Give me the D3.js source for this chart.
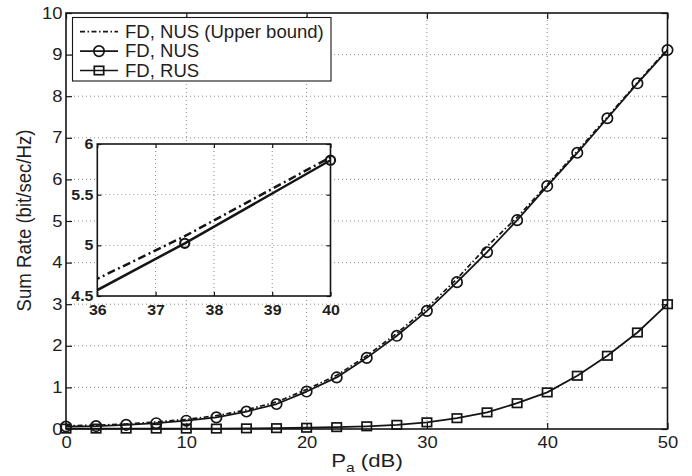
<!DOCTYPE html>
<html><head><meta charset="utf-8">
<script src="https://cdn.jsdelivr.net/npm/d3@7"></script>
<style>
html,body{margin:0;padding:0;background:#fff;}
svg{display:block;font-family:"Liberation Sans",Arial,Helvetica,sans-serif;}
</style></head><body>
<svg id="chart" width="692" height="476"></svg>
<script>
// Transmit power P_a (dB) at each simulated point
const powerDb = [0, 2.5, 5, 7.5, 10, 12.5, 15, 17.5, 20, 22.5, 25, 27.5, 30, 32.5, 35, 37.5, 40, 42.5, 45, 47.5, 50];
// Sum rate (bit/sec/Hz) per scheme
const rateNusUpper = [0.08, 0.09, 0.12, 0.17, 0.23, 0.32, 0.46, 0.65, 0.95, 1.29, 1.76, 2.30, 2.91, 3.61, 4.39, 5.09, 5.87, 6.68, 7.50, 8.33, 9.13];
const rateNus      = [0.06, 0.07, 0.10, 0.14, 0.20, 0.28, 0.42, 0.60, 0.90, 1.24, 1.71, 2.24, 2.84, 3.53, 4.25, 5.02, 5.84, 6.64, 7.47, 8.31, 9.11];
const rateRus      = [0.01, 0.01, 0.01, 0.01, 0.01, 0.01, 0.015, 0.02, 0.03, 0.045, 0.065, 0.10, 0.16, 0.26, 0.40, 0.62, 0.88, 1.28, 1.76, 2.32, 3.00];
const seriesNames = ["FD, NUS (Upper bound)", "FD, NUS", "FD, RUS"];

const xTicks = [0, 10, 20, 30, 40, 50];
const yTicks = [0, 1, 2, 3, 4, 5, 6, 7, 8, 9, 10];
const insetXTicks = [36, 37, 38, 39, 40];
const insetYTicks = [4.5, 5, 5.5, 6];
const insetXDomain = [36, 40];
const insetYDomain = [4.5, 6];

const svg = d3.select("#chart");
const ink = "#151515";
const textInk = "#1e1e1e";
const gridInk = "#8a8a8a";
const font = "'Liberation Sans',Arial,Helvetica,sans-serif";

// Main axes geometry
const plot = {left: 66, right: 667.5, top: 13, bottom: 429};
const x = d3.scaleLinear().domain([0, 50]).range([plot.left, plot.right]);
const y = d3.scaleLinear().domain([0, 10]).range([plot.bottom, plot.top]);

svg.append("rect").attr("width", 692).attr("height", 476).attr("fill", "#fff");

// Dotted grid
function drawGrid(g, xs, ys, xt, yt) {
  const [x0, x1] = xs.range(), [y0, y1] = ys.range();
  g.selectAll(".gx").data(xt.filter(v => v !== xs.domain()[0] && v !== xs.domain()[1]))
    .join("line").attr("class", "gx").attr("x1", d => xs(d)).attr("x2", d => xs(d)).attr("y1", y0).attr("y2", y1)
    .attr("stroke", gridInk).attr("stroke-width", 1).attr("stroke-dasharray", "1,3");
  g.selectAll(".gy").data(yt.filter(v => v !== ys.domain()[0] && v !== ys.domain()[1]))
    .join("line").attr("class", "gy").attr("x1", x0).attr("x2", x1).attr("y1", d => ys(d)).attr("y2", d => ys(d))
    .attr("stroke", gridInk).attr("stroke-width", 1).attr("stroke-dasharray", "1,3");
}
drawGrid(svg.append("g"), x, y, xTicks, yTicks);

// Axes with inward ticks on all four sides
function styleAxis(g, fontSize, sx, weight) {
  g.select(".domain").remove();
  g.selectAll(".tick line").attr("stroke", ink).attr("stroke-width", 1.2);
  g.selectAll(".tick text").attr("fill", textInk).attr("font-size", fontSize)
    .attr("font-weight", weight || "normal")
    .attr("font-family", font)
    .attr("transform", `scale(${sx},1)`);
}
const gxB = svg.append("g").attr("transform", `translate(0,${plot.bottom})`)
  .call(d3.axisBottom(x).tickValues(xTicks).tickSize(-6).tickPadding(7.5));
styleAxis(gxB, 16, 1.15);
const gyL = svg.append("g").attr("transform", `translate(${plot.left},0)`)
  .call(d3.axisLeft(y).tickValues(yTicks).tickSize(-6).tickPadding(3));
styleAxis(gyL, 16, 1.15);
const gxT = svg.append("g").attr("transform", `translate(0,${plot.top})`)
  .call(d3.axisTop(x).tickValues(xTicks).tickSize(-6).tickFormat(""));
styleAxis(gxT, 16, 1);
const gyR = svg.append("g").attr("transform", `translate(${plot.right},0)`)
  .call(d3.axisRight(y).tickValues(yTicks).tickSize(-6).tickFormat(""));
styleAxis(gyR, 16, 1);

// Series
const pts = vals => powerDb.map((p, i) => [p, vals[i]]);
function drawSeries(g, xs, ys, vals, opts) {
  const line = d3.line().x(d => xs(d[0])).y(d => ys(d[1]));
  g.append("path").datum(pts(vals)).attr("d", line).attr("fill", "none")
    .attr("stroke", ink).attr("stroke-width", opts.width)
    .attr("stroke-dasharray", opts.dash || null).attr("stroke-linejoin", "round");
}
function drawMarkers(g, xs, ys, data, shape, size, width) {
  if (shape === "circle") {
    g.selectAll(null).data(data).join("circle")
      .attr("cx", d => xs(d[0])).attr("cy", d => ys(d[1])).attr("r", size)
      .attr("fill", "none").attr("stroke", ink).attr("stroke-width", width);
  } else {
    g.selectAll(null).data(data).join("rect")
      .attr("x", d => xs(d[0]) - size).attr("y", d => ys(d[1]) - size * 0.9)
      .attr("width", size * 2).attr("height", size * 1.8)
      .attr("fill", "none").attr("stroke", ink).attr("stroke-width", width);
  }
}
const series = svg.append("g");
drawSeries(series, x, y, rateNusUpper, {width: 1.7, dash: "5,2.5,1.5,2.5"});
drawSeries(series, x, y, rateNus, {width: 1.8});
drawSeries(series, x, y, rateRus, {width: 1.8});
drawMarkers(series, x, y, pts(rateNus), "circle", 5.2, 1.7);
drawMarkers(series, x, y, pts(rateRus), "square", 4.7, 1.7);

// Frame
svg.append("rect").attr("x", plot.left).attr("y", plot.top)
  .attr("width", plot.right - plot.left).attr("height", plot.bottom - plot.top)
  .attr("fill", "none").attr("stroke", ink).attr("stroke-width", 1.6);

// Axis titles
const xTitle = svg.append("text").attr("transform", "translate(367,466.5) scale(1.2,1)")
  .attr("text-anchor", "middle").attr("font-size", 18.5).attr("fill", textInk).attr("font-family", font);
xTitle.append("tspan").text("P");
xTitle.append("tspan").attr("font-size", 13).attr("dy", 5).text("a");
xTitle.append("tspan").attr("dy", -5).text(" (dB)");

svg.append("text").attr("transform", "translate(31,220.5) scale(1.12,1) rotate(-90)")
  .attr("text-anchor", "middle").attr("font-size", 18.6).attr("fill", textInk).attr("font-family", font)
  .text("Sum Rate (bit/sec/Hz)");

// Legend
const legend = svg.append("g");
legend.append("rect").attr("x", 72.5).attr("y", 17.5).attr("width", 258.5).attr("height", 63.5)
  .attr("fill", "#fff").attr("stroke", ink).attr("stroke-width", 1.1);
const legendRows = [
  {name: seriesNames[0], dash: "5,2.5,1.5,2.5", marker: null},
  {name: seriesNames[1], dash: null, marker: "circle"},
  {name: seriesNames[2], dash: null, marker: "square"}
];
const rowY = d3.scalePoint().domain(d3.range(legendRows.length)).range([31.7, 70.5]);
legendRows.forEach((r, i) => {
  const yy = rowY(i);
  legend.append("line").attr("x1", 80).attr("x2", 118).attr("y1", yy).attr("y2", yy)
    .attr("stroke", ink).attr("stroke-width", 1.7).attr("stroke-dasharray", r.dash);
  if (r.marker === "circle") {
    legend.append("circle").attr("cx", 99).attr("cy", yy).attr("r", 5.2)
      .attr("fill", "none").attr("stroke", ink).attr("stroke-width", 1.7);
  } else if (r.marker === "square") {
    legend.append("rect").attr("x", 99 - 4.7).attr("y", yy - 4.2).attr("width", 9.4).attr("height", 8.4)
      .attr("fill", "none").attr("stroke", ink).attr("stroke-width", 1.7);
  }
  legend.append("text").attr("transform", `translate(125,${yy + 6.2}) scale(1.06,1)`)
    .attr("font-size", 17.5).attr("fill", textInk).attr("font-family", font).text(r.name);
});

// Inset: zoom on 36-40 dB
const ib = {left: 97.3, right: 330.5, top: 144, bottom: 296};
const xi = d3.scaleLinear().domain(insetXDomain).range([ib.left, ib.right]);
const yi = d3.scaleLinear().domain(insetYDomain).range([ib.bottom, ib.top]);
const inset = svg.append("g");
inset.append("rect").attr("x", ib.left).attr("y", ib.top)
  .attr("width", ib.right - ib.left).attr("height", ib.bottom - ib.top).attr("fill", "#fff");
drawGrid(inset.append("g"), xi, yi, insetXTicks, insetYTicks);
svg.append("clipPath").attr("id", "inset-clip").append("rect")
  .attr("x", ib.left).attr("y", ib.top).attr("width", ib.right - ib.left).attr("height", ib.bottom - ib.top);
const insetLines = inset.append("g").attr("clip-path", "url(#inset-clip)");
drawSeries(insetLines, xi, yi, rateNusUpper, {width: 2.5, dash: "8,3.5,2,3.5"});
drawSeries(insetLines, xi, yi, rateNus, {width: 2.5});
const inDomain = d => d[0] >= insetXDomain[0] && d[0] <= insetXDomain[1] && d[1] >= insetYDomain[0] && d[1] <= insetYDomain[1];
drawMarkers(inset, xi, yi, pts(rateNus).filter(inDomain), "circle", 4.6, 2.1);

const plain = d3.format("");
const ixB = inset.append("g").attr("transform", `translate(0,${ib.bottom})`)
  .call(d3.axisBottom(xi).tickValues(insetXTicks).tickSize(-4).tickPadding(8.5).tickFormat(plain));
styleAxis(ixB, 14.5, 1.1, "bold");
const iyL = inset.append("g").attr("transform", `translate(${ib.left},0)`)
  .call(d3.axisLeft(yi).tickValues(insetYTicks).tickSize(-4).tickPadding(3.5).tickFormat(plain));
styleAxis(iyL, 14.5, 1.1, "bold");
const ixT = inset.append("g").attr("transform", `translate(0,${ib.top})`)
  .call(d3.axisTop(xi).tickValues(insetXTicks).tickSize(-4).tickFormat(""));
styleAxis(ixT, 14.5, 1);
const iyR = inset.append("g").attr("transform", `translate(${ib.right},0)`)
  .call(d3.axisRight(yi).tickValues(insetYTicks).tickSize(-4).tickFormat(""));
styleAxis(iyR, 14.5, 1);
inset.append("rect").attr("x", ib.left).attr("y", ib.top)
  .attr("width", ib.right - ib.left).attr("height", ib.bottom - ib.top)
  .attr("fill", "none").attr("stroke", ink).attr("stroke-width", 1.6);
</script>
</body></html>
